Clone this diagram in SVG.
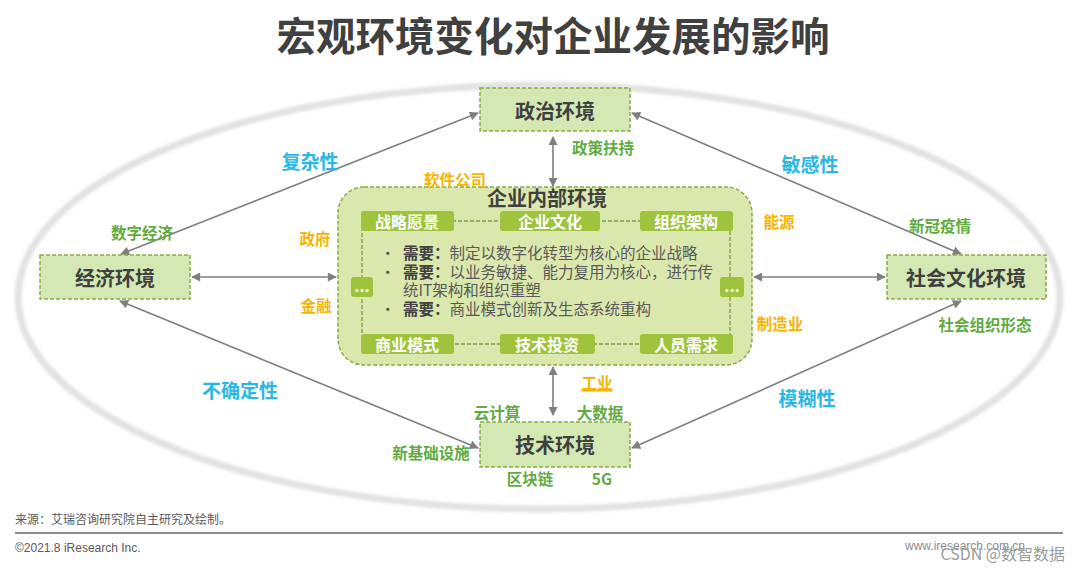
<svg xmlns="http://www.w3.org/2000/svg" width="1080" height="571" viewBox="0 0 1080 571">
<defs>
<marker id="ah" viewBox="0 0 10 10" refX="9" refY="5" markerWidth="11" markerHeight="9" markerUnits="userSpaceOnUse" orient="auto-start-reverse">
<path d="M0,0 L10,5 L0,10 z" fill="#7f7f7f"/>
</marker>
<filter id="blur" x="-5%" y="-5%" width="110%" height="110%"><feGaussianBlur stdDeviation="1.5"/></filter>
</defs>
<style>
text{font-family:"Noto Sans CJK SC","Noto Sans",sans-serif;dominant-baseline:central;text-anchor:middle}
.node{fill:#d4e8b4;stroke:#8aab45;stroke-width:1.5;stroke-dasharray:4 2}
.ntxt{font-size:20px;font-weight:bold;fill:#404040}
.tag{fill:#9dc43c}
.ttxt{font-size:16px;font-weight:bold;fill:#ffffff}
.conn{stroke:#7f7f7f;stroke-width:1.6;fill:none;marker-start:url(#ah);marker-end:url(#ah)}
.blue{font-size:19px;font-weight:bold;fill:#2bb7e6}
.green{font-size:15.5px;font-weight:bold;fill:#5fab3f}
.yellow{font-size:15.5px;font-weight:bold;fill:#f5b400}
.bul{font-size:15.5px;fill:#595959;text-anchor:start}
</style>
<rect width="1080" height="571" fill="#ffffff"/>
<text x="553" y="33" style="font-size:39.5px;font-weight:bold;fill:#404040">宏观环境变化对企业发展的影响</text>
<ellipse cx="539" cy="297" rx="521" ry="212" fill="none" stroke="#e2e2e2" stroke-width="7" filter="url(#blur)"/>
<g id="connectors">
<line class="conn" x1="478" y1="113" x2="121" y2="254"/>
<line class="conn" x1="632" y1="113" x2="961" y2="254"/>
<line class="conn" x1="120" y1="301" x2="478" y2="448"/>
<line class="conn" x1="961" y1="301" x2="632" y2="448"/>
<line class="conn" x1="192" y1="277" x2="336" y2="277"/>
<line class="conn" x1="754" y1="277" x2="885" y2="277"/>
<line class="conn" x1="553" y1="137" x2="553" y2="186"/>
<line class="conn" x1="553" y1="367" x2="553" y2="415"/>
</g>
<g id="politics">
<rect class="node" x="480" y="88" width="150" height="43"/>
<text class="ntxt" x="555" y="110">政治环境</text>
</g>
<g id="economy">
<rect class="node" x="40" y="255" width="150" height="44"/>
<text class="ntxt" x="115" y="277">经济环境</text>
</g>
<g id="society">
<rect class="node" x="887" y="255" width="159" height="44"/>
<text class="ntxt" x="966" y="277">社会文化环境</text>
</g>
<g id="technology">
<rect class="node" x="480" y="422" width="150" height="45"/>
<text class="ntxt" x="555" y="444">技术环境</text>
</g>
<g id="enterprise">
<rect x="338" y="187" width="414" height="178" rx="26" fill="#dbe8ad" stroke="#8aab45" stroke-width="1.5" stroke-dasharray="4 2"/>
<text x="547" y="197" style="font-size:20px;font-weight:bold;fill:#404040">企业内部环境</text>
<rect x="362" y="221" width="368" height="123" fill="none" stroke="#7f9a45" stroke-width="1.3" stroke-dasharray="4 2"/>
<rect class="tag" x="361" y="211" width="93" height="20" rx="3"/>
<text class="ttxt" x="407" y="221">战略愿景</text>
<rect class="tag" x="500" y="211" width="100" height="20" rx="3"/>
<text class="ttxt" x="550" y="221">企业文化</text>
<rect class="tag" x="640" y="211" width="93" height="20" rx="3"/>
<text class="ttxt" x="686" y="221">组织架构</text>
<rect class="tag" x="361" y="334" width="93" height="20" rx="3"/>
<text class="ttxt" x="407" y="344">商业模式</text>
<rect class="tag" x="500" y="334" width="95" height="20" rx="3"/>
<text class="ttxt" x="547" y="344">技术投资</text>
<rect class="tag" x="640" y="334" width="93" height="20" rx="3"/>
<text class="ttxt" x="686" y="344">人员需求</text>
<rect class="tag" x="351" y="277" width="22" height="20" rx="3"/>
<text class="ttxt" x="362" y="285">...</text>
<rect class="tag" x="720" y="277" width="24" height="20" rx="3"/>
<text class="ttxt" x="732" y="285">...</text>
<text class="bul" x="380" y="252">•</text>
<text class="bul" x="403" y="252"><tspan font-weight="bold" fill="#404040">需要：</tspan>制定以数字化转型为核心的企业战略</text>
<text class="bul" x="380" y="271">•</text>
<text class="bul" x="403" y="271"><tspan font-weight="bold" fill="#404040">需要：</tspan>以业务敏捷、能力复用为核心，进行传</text>
<text class="bul" x="403" y="289">统IT架构和组织重塑</text>
<text class="bul" x="380" y="308">•</text>
<text class="bul" x="403" y="308"><tspan font-weight="bold" fill="#404040">需要：</tspan>商业模式创新及生态系统重构</text>
</g>
<g id="labels">
<text class="blue" x="310" y="160">复杂性</text>
<text class="blue" x="810" y="163">敏感性</text>
<text class="blue" x="240" y="389">不确定性</text>
<text class="blue" x="807" y="397">模糊性</text>
<text class="green" x="142" y="232">数字经济</text>
<text class="green" x="603" y="147">政策扶持</text>
<text class="green" x="940" y="225">新冠疫情</text>
<text class="green" x="985" y="324">社会组织形态</text>
<text class="green" x="497" y="412">云计算</text>
<text class="green" x="600" y="412">大数据</text>
<text class="green" x="431" y="452">新基础设施</text>
<text class="green" x="530" y="478">区块链</text>
<text class="green" x="602" y="478">5G</text>
<text class="yellow" x="455" y="179">软件公司</text>
<text class="yellow" x="315" y="238">政府</text>
<text class="yellow" x="316" y="305">金融</text>
<text class="yellow" x="779" y="221">能源</text>
<text class="yellow" x="780" y="323">制造业</text>
<text class="yellow" x="597" y="382" text-decoration="underline">工业</text>
</g>
<g id="footer">
<text x="15" y="518" style="font-size:12px;fill:#595959;text-anchor:start">来源：艾瑞咨询研究院自主研究及绘制。</text>
<line x1="15" y1="533" x2="1063" y2="533" stroke="#8c8c8c" stroke-width="2"/>
<text x="15" y="548" style="font-family:'Liberation Sans Narrow','Liberation Sans',sans-serif;font-size:12px;fill:#595959;text-anchor:start">©2021.8 iResearch Inc.</text>
<text x="905" y="546" style="font-family:'Liberation Sans Narrow','Liberation Sans',sans-serif;font-size:12px;fill:#8c8c8c;text-anchor:start">www.iresearch.com.cn</text>
<text x="1065" y="553" style="font-size:16px;fill:#9a9a9a;text-anchor:end">CSDN @数智数据</text>
</g>
</svg>
